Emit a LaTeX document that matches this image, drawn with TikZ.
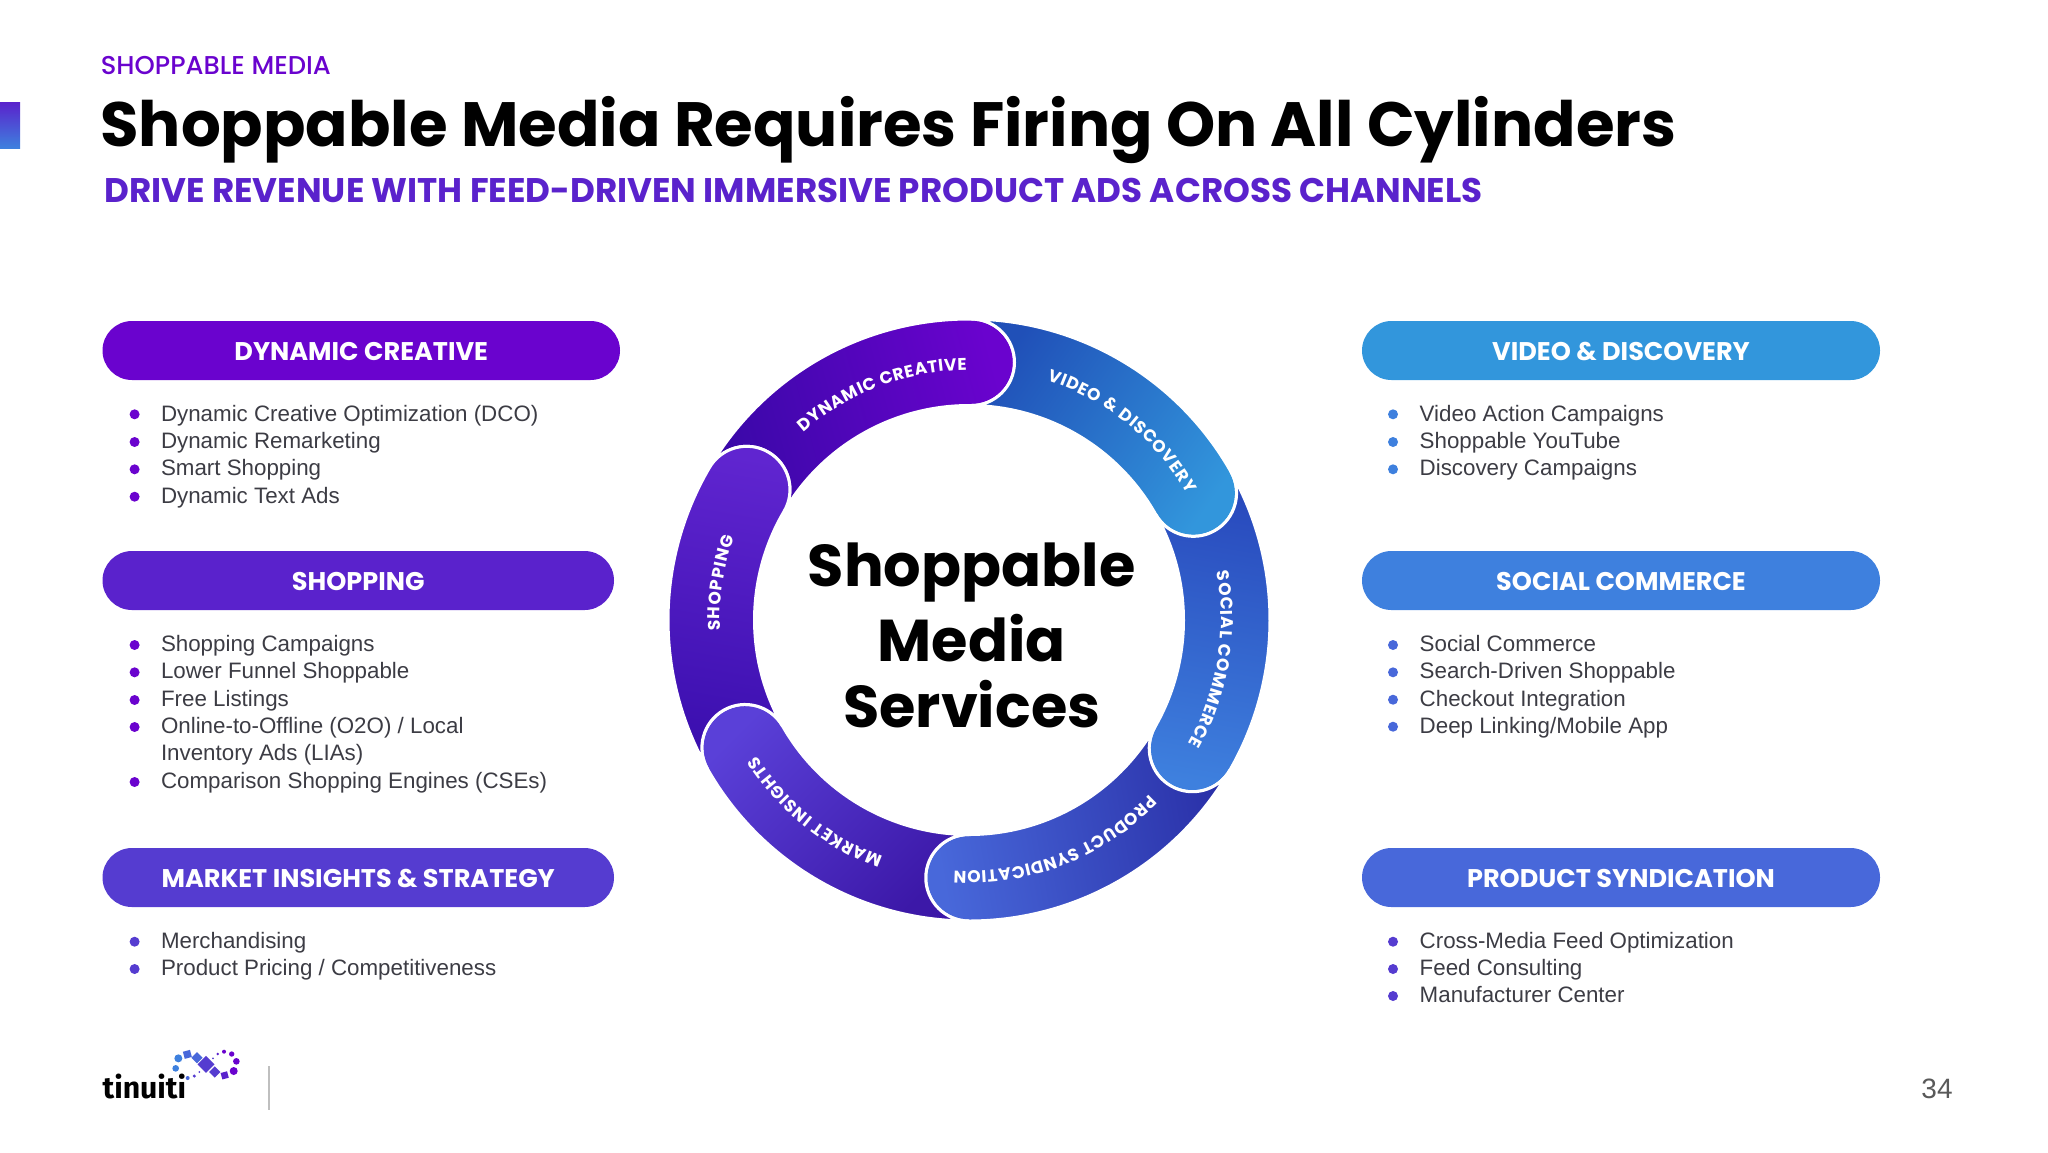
\documentclass[tikz,border=0pt]{standalone}
\usepackage{fontspec}
\usepackage{tikz}
\usetikzlibrary{decorations.text}
\setmainfont{Liberation Sans}
\newfontfamily\popfont{Poppins}
\newfontfamily\popmed{Poppins Medium}
\newfontfamily\logofont{Fira Sans}
\definecolor{dcviolet}{HTML}{6A03CE}
\definecolor{dcdark}{HTML}{3A08A8}
\definecolor{shviolet}{HTML}{5A22CC}
\definecolor{shdark}{HTML}{3A0EAE}
\definecolor{shlight}{HTML}{6025D0}
\definecolor{miviolet}{HTML}{553CD0}
\definecolor{midark}{HTML}{3C18A8}
\definecolor{milight}{HTML}{5A40D8}
\definecolor{vdblue}{HTML}{3296DC}
\definecolor{vddark}{HTML}{2050B8}
\definecolor{scblue}{HTML}{3E80DE}
\definecolor{scdark}{HTML}{2848BC}
\definecolor{psblue}{HTML}{4868DA}
\definecolor{psdark}{HTML}{2A30A8}
\definecolor{itemgrey}{HTML}{3C3C44}
\begin{document}
\begin{tikzpicture}[line cap=round,line join=round,x=0.5pt,y=-0.5pt,
  pill/.style={rounded corners=14.75pt,minimum height=29.5pt,inner sep=0pt,text=white,text height=10.3pt,text depth=0pt,font=\popfont\bfseries\fontsize{12.78}{14}\selectfont},
  item/.style={anchor=base west,inner sep=0pt,text=itemgrey,font=\fontsize{11.17}{14}\selectfont},
  dot/.style={circle,inner sep=0pt,minimum size=5pt},
  seg/.style={draw=white,line width=1.5pt},
  mid/.style={inner sep=0pt,anchor=base,text=black,font=\popfont\bfseries\fontsize{29.5}{36}\selectfont},
  ringtext/.style={decorate,decoration={text along path,text align=fit to path,text color=white,#1}}]
\useasboundingbox (0,0) rectangle (2048,1152);
\shade [top color=shviolet,bottom color=scblue,shading angle=0] (0,102) rectangle (20,148);
\node (kicker) [anchor=base west,inner sep=0pt,text=dcviolet,font=\popmed\fontsize{12.9}{14}\selectfont] at (100.5,74) {SHOPPABLE MEDIA};
\node (title) [anchor=base west,inner sep=0pt,text=black,font=\popfont\bfseries\fontsize{31.3}{36}\selectfont] at (100,146) {Shoppable Media Requires Firing On All Cylinders};
\node (subtitle) [anchor=base west,inner sep=0pt,text=shviolet,font=\popfont\bfseries\fontsize{17.07}{20}\selectfont] at (104,202) {DRIVE REVENUE WITH FEED-DRIVEN IMMERSIVE PRODUCT ADS ACROSS CHANNELS};
% left column
\node (dc) [pill,fill=dcviolet,minimum width=258.75pt] at (361.25,350.5) {DYNAMIC CREATIVE};
\node (dc1b) [dot,fill=dcviolet] at (134.6,414.3) {};
\node (dc2b) [dot,fill=dcviolet] at (134.6,442) {};
\node (dc3b) [dot,fill=dcviolet] at (134.6,469.3) {};
\node (dc4b) [dot,fill=dcviolet] at (134.6,496.7) {};
\node (dc1) [item] at (160.6,421.2) {Dynamic Creative Optimization (DCO)};
\node (dc2) [item] at (160.6,448.6) {Dynamic Remarketing};
\node (dc3) [item] at (160.6,475.9) {Smart Shopping};
\node (dc4) [item] at (160.6,503.1) {Dynamic Text Ads};
\node (sh) [pill,fill=shviolet,minimum width=255.75pt] at (358.25,580.5) {SHOPPING};
\node (sh1b) [dot,fill=dcviolet] at (134.6,645) {};
\node (sh2b) [dot,fill=dcviolet] at (134.6,672.3) {};
\node (sh3b) [dot,fill=dcviolet] at (134.6,700) {};
\node (sh4b) [dot,fill=dcviolet] at (134.6,727) {};
\node (sh5b) [dot,fill=dcviolet] at (134.6,782) {};
\node (sh1) [item] at (160.6,651.4) {Shopping Campaigns};
\node (sh2) [item] at (160.6,678.7) {Lower Funnel Shoppable};
\node (sh3) [item] at (160.6,706.4) {Free Listings};
\node (sh4) [item] at (160.6,733.4) {Online-to-Offline (O2O) / Local};
\node (sh4x) [item] at (160.6,760.4) {Inventory Ads (LIAs)};
\node (sh5) [item] at (160.6,788.4) {Comparison Shopping Engines (CSEs)};
\node (mi) [pill,fill=miviolet,minimum width=255.75pt] at (358.25,877.5) {MARKET INSIGHTS \& STRATEGY};
\node (mi1b) [dot,fill=miviolet] at (134.6,941.7) {};
\node (mi2b) [dot,fill=miviolet] at (134.6,969) {};
\node (mi1) [item] at (160.6,948.1) {Merchandising};
\node (mi2) [item] at (160.6,975.4) {Product Pricing / Competitiveness};
% right column
\node (vd) [pill,fill=vdblue,minimum width=259pt] at (1621,350.5) {VIDEO \& DISCOVERY};
\node (vd1b) [dot,fill=scblue] at (1393,414.3) {};
\node (vd2b) [dot,fill=scblue] at (1393,442) {};
\node (vd3b) [dot,fill=scblue] at (1393,469.3) {};
\node (vd1) [item] at (1419.3,421.2) {Video Action Campaigns};
\node (vd2) [item] at (1419.3,448.6) {Shoppable YouTube};
\node (vd3) [item] at (1419.3,475.9) {Discovery Campaigns};
\node (sc) [pill,fill=scblue,minimum width=259pt] at (1621,580.5) {SOCIAL COMMERCE};
\node (sc1b) [dot,fill=psblue] at (1393,645) {};
\node (sc2b) [dot,fill=psblue] at (1393,672.3) {};
\node (sc3b) [dot,fill=psblue] at (1393,699.7) {};
\node (sc4b) [dot,fill=psblue] at (1393,726.7) {};
\node (sc1) [item] at (1419.3,651.4) {Social Commerce};
\node (sc2) [item] at (1419.3,678.7) {Search-Driven Shoppable};
\node (sc3) [item] at (1419.3,706.1) {Checkout Integration};
\node (sc4) [item] at (1419.3,733.1) {Deep Linking/Mobile App};
\node (ps) [pill,fill=psblue,minimum width=259pt] at (1621,877.5) {PRODUCT SYNDICATION};
\node (ps1b) [dot,fill=miviolet] at (1393,941.7) {};
\node (ps2b) [dot,fill=miviolet] at (1393,969) {};
\node (ps3b) [dot,fill=miviolet] at (1393,996) {};
\node (ps1) [item] at (1419.3,948.1) {Cross-Media Feed Optimization};
\node (ps2) [item] at (1419.3,975.4) {Feed Consulting};
\node (ps3) [item] at (1419.3,1002.4) {Manufacturer Center};
% ring
\begin{scope}[shift={(969,620)},y=0.5pt]
\draw [seg,top color=dcviolet,bottom color=dcdark,shading angle=-75] (149.6:301) arc (149.6:89.5:301) arc (89.5:-90.5:43.25) arc (89.5:149.6:214.5) arc (-30.4:149.6:43.25) -- cycle;
\draw [seg,top color=vdblue,bottom color=vddark,shading angle=-125] (89.5:301) arc (89.5:29.5:301) arc (29.5:-150.5:43.25) arc (29.5:89.5:214.5) arc (-90.5:89.5:43.25) -- cycle;
\draw [seg,top color=scblue,bottom color=scdark,shading angle=170] (29.5:301) arc (29.5:-29.9:301) arc (-29.9:-209.9:43.25) arc (-29.9:29.5:214.5) arc (-150.5:29.5:43.25) -- cycle;
\draw [seg,top color=psblue,bottom color=psdark,shading angle=100] (-29.9:301) arc (-29.9:-90:301) arc (-90:-270:43.25) arc (-90:-29.9:214.5) arc (-209.9:-29.9:43.25) -- cycle;
\draw [seg,top color=milight,bottom color=midark,shading angle=45] (-90:301) arc (-90:-150.3:301) arc (-150.3:-330.3:43.25) arc (-150.3:-90:214.5) arc (-270:-90:43.25) -- cycle;
\draw [seg,top color=shlight,bottom color=shdark,shading angle=-10] (-150.3:301) arc (-150.3:-210.4:301) arc (-210.4:-390.4:43.25) arc (-210.4:-150.3:214.5) arc (-330.3:-150.3:43.25) -- cycle;
\path [ringtext={text={|\popfont\bfseries\fontsize{8.5}{11}\selectfont|DYNAMIC CREATIVE}}] (131.3:250) arc (131.3:90.5:250);
\path [ringtext={text={|\popfont\bfseries\fontsize{8.5}{11}\selectfont|VIDEO {\&} DISCOVERY}}] (72:252) arc (72:30:252);
\path [ringtext={text={|\popfont\bfseries\fontsize{8.5}{11}\selectfont|SOCIAL COMMERCE}}] (11:252) arc (11:-29.5:252);
\path [ringtext={text={|\popfont\bfseries\fontsize{8.5}{11}\selectfont|PRODUCT SYNDICATION}}] (-44:251) arc (-44:-93.5:251);
\path [ringtext={text={|\popfont\bfseries\fontsize{8.5}{11}\selectfont|MARKET INSIGHTS}}] (-110:252) arc (-110:-147.5:252);
\path [ringtext={text={|\popfont\bfseries\fontsize{8.5}{11}\selectfont|SHOPPING}}] (182.5:249) arc (182.5:160.5:249);
\end{scope}
\node (mid1) [mid] at (971.7,586) {Shoppable};
\node (mid2) [mid] at (971.7,661) {Media};
\node (mid3) [mid] at (971.7,727) {Services};
% logo
\node (logo) [anchor=base west,inner sep=0pt,text=black,font=\logofont\bfseries\fontsize{15.1}{18}\selectfont] at (102.2,1098) {tinuiti};
\begin{scope}[shift={(80,1030)},x=0.1667pt,y=-0.1667pt]
\fill [color=scblue] (295,85) circle (12);
\fill [color=scblue] (287,115) circle (10);
\fill [color=psblue,rotate around={15:(322,73)}] (311,62) rectangle (333,84);
\fill [color=psblue,rotate around={45:(351,83)}] (339,71) rectangle (363,95);
\fill [color=miviolet,rotate around={45:(378,103)}] (360,85) rectangle (396,121);
\fill [color=miviolet,rotate around={45:(404,126)}] (392,114) rectangle (416,138);
\fill [color=shviolet,rotate around={15:(434,136)}] (424,126) rectangle (444,146);
\fill [color=dcviolet] (461,123) circle (12);
\fill [color=dcviolet] (469,94) circle (10);
\fill [color=dcviolet] (455,72) circle (8);
\fill [color=dcviolet] (432,65) circle (6);
\fill [color=shviolet] (413,72) circle (4);
\fill [color=miviolet] (399,85) circle (3);
\fill [color=miviolet] (358,126) circle (3);
\fill [color=miviolet] (343,138) circle (5);
\fill [color=psblue] (323,144) circle (6);
\end{scope}
\draw [line width=1pt,color=black!25,line cap=butt] (269,1066)-- (269,1110);
\node (pageno) [anchor=base east,inner sep=0pt,text=black!65,font=\fontsize{14}{16}\selectfont] at (1953,1098) {34};
\end{tikzpicture}
\end{document}
